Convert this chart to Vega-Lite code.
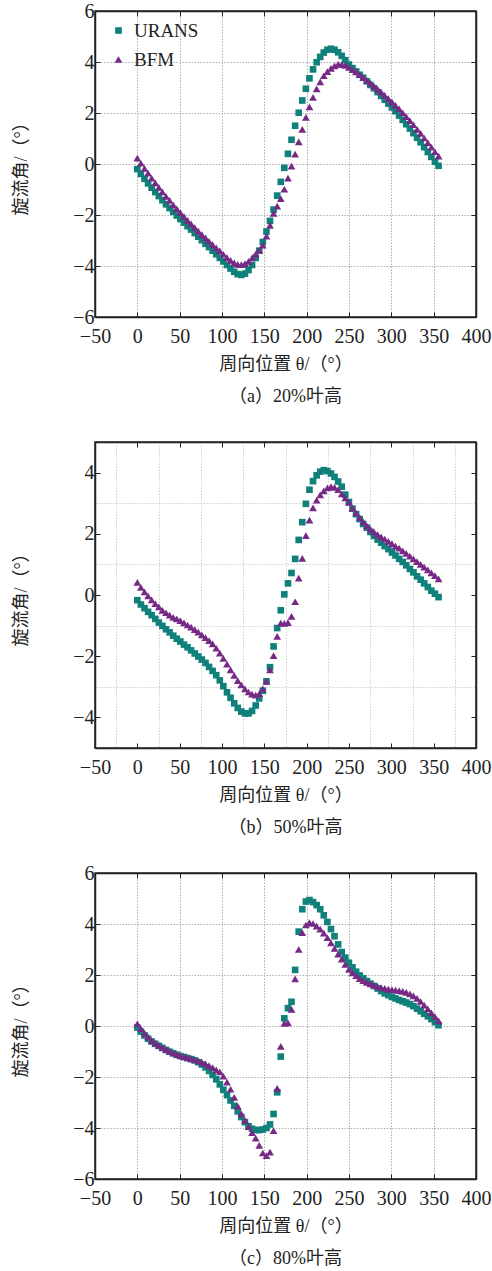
{
"$schema":"https://vega.github.io/schema/vega-lite/v6.json",
"background":"white",
"padding":{"left":11,"top":0,"right":0,"bottom":0},
"bounds":"flush",
"spacing":125,
"config":{
 "font":"Liberation Serif, Noto Sans CJK SC",
 "view":{"stroke":"#222","strokeWidth":1.5},
 "axis":{"labelFont":"Liberation Serif","labelFontSize":20,"labelColor":"#222","labelFlush":false,"labelOverlap":false,"labelPadding":5,
  "titleFont":"Liberation Serif, Noto Sans CJK SC","titleFontSize":18,"titleFontWeight":"normal","titleColor":"#222",
  "domainColor":"#222","domainWidth":1.5,"tickColor":"#222","tickSize":-5,"tickWidth":1,
  "gridColor":"#9a9a9a","gridDash":[1.5,1.5],"gridWidth":0.8},
 "axisX":{"titlePadding":9,"labelPadding":14},
 "axisY":{"titlePadding":42,"labelPadding":6},
 "title":{"font":"Liberation Serif, Noto Sans CJK SC","fontSize":18,"fontWeight":"normal","color":"#222","orient":"bottom","anchor":"middle","offset":15},
 "legend":{"title":null,"labelFont":"Liberation Serif","labelFontSize":19,"labelColor":"#222","symbolSize":44,"rowPadding":9,"labelOffset":6,"symbolStrokeWidth":0}
},
"datasets":{
"p1":[
{"t":0,"URANS":-0.20,"BFM":0.23},{"t":4.2,"URANS":-0.39,"BFM":0.03},{"t":8.5,"URANS":-0.58,"BFM":-0.17},{"t":12.7,"URANS":-0.76,"BFM":-0.36},{"t":16.9,"URANS":-0.93,"BFM":-0.55},{"t":21.2,"URANS":-1.10,"BFM":-0.74},{"t":25.4,"URANS":-1.26,"BFM":-0.92},{"t":29.6,"URANS":-1.42,"BFM":-1.09},{"t":33.9,"URANS":-1.58,"BFM":-1.27},{"t":38.1,"URANS":-1.73,"BFM":-1.43},
{"t":42.4,"URANS":-1.88,"BFM":-1.60},{"t":46.6,"URANS":-2.02,"BFM":-1.76},{"t":50.8,"URANS":-2.16,"BFM":-1.91},{"t":55.1,"URANS":-2.30,"BFM":-2.06},{"t":59.3,"URANS":-2.44,"BFM":-2.21},{"t":63.5,"URANS":-2.57,"BFM":-2.35},{"t":67.8,"URANS":-2.71,"BFM":-2.49},{"t":72.0,"URANS":-2.85,"BFM":-2.63},{"t":76.2,"URANS":-2.99,"BFM":-2.77},{"t":80.5,"URANS":-3.13,"BFM":-2.90},
{"t":84.7,"URANS":-3.26,"BFM":-3.03},{"t":88.9,"URANS":-3.40,"BFM":-3.16},{"t":93.2,"URANS":-3.54,"BFM":-3.29},{"t":97.4,"URANS":-3.68,"BFM":-3.41},{"t":101.6,"URANS":-3.82,"BFM":-3.54},{"t":105.9,"URANS":-3.96,"BFM":-3.67},{"t":110.1,"URANS":-4.10,"BFM":-3.78},{"t":114.4,"URANS":-4.23,"BFM":-3.88},{"t":118.6,"URANS":-4.32,"BFM":-3.94},{"t":122.8,"URANS":-4.35,"BFM":-3.95},
{"t":127.1,"URANS":-4.30,"BFM":-3.91},{"t":131.3,"URANS":-4.16,"BFM":-3.82},{"t":135.5,"URANS":-3.96,"BFM":-3.68},{"t":139.8,"URANS":-3.68,"BFM":-3.53},{"t":144.0,"URANS":-3.40,"BFM":-3.38},{"t":148.2,"URANS":-3.06,"BFM":-3.18},{"t":152.5,"URANS":-2.65,"BFM":-2.83},{"t":156.7,"URANS":-2.23,"BFM":-2.41},{"t":160.9,"URANS":-1.79,"BFM":-1.94},{"t":165.2,"URANS":-1.24,"BFM":-1.65},
{"t":169.4,"URANS":-0.70,"BFM":-1.36},{"t":173.6,"URANS":-0.15,"BFM":-0.99},{"t":177.9,"URANS":0.40,"BFM":-0.55},{"t":182.1,"URANS":0.95,"BFM":-0.08},{"t":186.4,"URANS":1.50,"BFM":0.39},{"t":190.6,"URANS":2.01,"BFM":0.87},{"t":194.8,"URANS":2.49,"BFM":1.36},{"t":199.1,"URANS":2.95,"BFM":1.83},{"t":203.3,"URANS":3.36,"BFM":2.24},{"t":207.5,"URANS":3.71,"BFM":2.61},
{"t":211.8,"URANS":3.99,"BFM":2.95},{"t":216.0,"URANS":4.20,"BFM":3.22},{"t":220.2,"URANS":4.37,"BFM":3.46},{"t":224.5,"URANS":4.48,"BFM":3.62},{"t":228.7,"URANS":4.52,"BFM":3.75},{"t":232.9,"URANS":4.48,"BFM":3.85},{"t":237.2,"URANS":4.38,"BFM":3.91},{"t":241.4,"URANS":4.24,"BFM":3.91},{"t":245.6,"URANS":4.07,"BFM":3.87},{"t":249.9,"URANS":3.90,"BFM":3.79},
{"t":254.1,"URANS":3.76,"BFM":3.70},{"t":258.4,"URANS":3.63,"BFM":3.61},{"t":262.6,"URANS":3.50,"BFM":3.50},{"t":266.8,"URANS":3.38,"BFM":3.40},{"t":271.1,"URANS":3.24,"BFM":3.28},{"t":275.3,"URANS":3.10,"BFM":3.17},{"t":279.5,"URANS":2.97,"BFM":3.05},{"t":283.8,"URANS":2.82,"BFM":2.94},{"t":288.0,"URANS":2.67,"BFM":2.82},{"t":292.2,"URANS":2.52,"BFM":2.69},
{"t":296.5,"URANS":2.37,"BFM":2.56},{"t":300.7,"URANS":2.22,"BFM":2.44},{"t":304.9,"URANS":2.07,"BFM":2.30},{"t":309.2,"URANS":1.90,"BFM":2.16},{"t":313.4,"URANS":1.73,"BFM":2.01},{"t":317.6,"URANS":1.56,"BFM":1.86},{"t":321.9,"URANS":1.39,"BFM":1.70},{"t":326.1,"URANS":1.21,"BFM":1.54},{"t":330.4,"URANS":1.03,"BFM":1.36},{"t":334.6,"URANS":0.85,"BFM":1.20},
{"t":338.8,"URANS":0.66,"BFM":1.02},{"t":343.1,"URANS":0.47,"BFM":0.84},{"t":347.3,"URANS":0.28,"BFM":0.66},{"t":351.5,"URANS":0.09,"BFM":0.48},{"t":355.8,"URANS":-0.07,"BFM":0.31}
],
"p2":[
{"t":0,"URANS":-0.17,"BFM":0.41},{"t":4.2,"URANS":-0.31,"BFM":0.25},{"t":8.5,"URANS":-0.43,"BFM":0.10},{"t":12.7,"URANS":-0.55,"BFM":-0.03},{"t":16.9,"URANS":-0.66,"BFM":-0.16},{"t":21.2,"URANS":-0.78,"BFM":-0.28},{"t":25.4,"URANS":-0.90,"BFM":-0.39},{"t":29.6,"URANS":-1.01,"BFM":-0.50},{"t":33.9,"URANS":-1.12,"BFM":-0.58},{"t":38.1,"URANS":-1.22,"BFM":-0.66},
{"t":42.4,"URANS":-1.33,"BFM":-0.73},{"t":46.6,"URANS":-1.43,"BFM":-0.78},{"t":50.8,"URANS":-1.52,"BFM":-0.84},{"t":55.1,"URANS":-1.62,"BFM":-0.91},{"t":59.3,"URANS":-1.71,"BFM":-0.98},{"t":63.5,"URANS":-1.81,"BFM":-1.05},{"t":67.8,"URANS":-1.91,"BFM":-1.13},{"t":72.0,"URANS":-2.01,"BFM":-1.21},{"t":76.2,"URANS":-2.11,"BFM":-1.30},{"t":80.5,"URANS":-2.22,"BFM":-1.39},
{"t":84.7,"URANS":-2.35,"BFM":-1.49},{"t":88.9,"URANS":-2.48,"BFM":-1.60},{"t":93.2,"URANS":-2.62,"BFM":-1.74},{"t":97.4,"URANS":-2.79,"BFM":-1.90},{"t":101.6,"URANS":-2.98,"BFM":-2.07},{"t":105.9,"URANS":-3.18,"BFM":-2.26},{"t":110.1,"URANS":-3.36,"BFM":-2.45},{"t":114.4,"URANS":-3.54,"BFM":-2.63},{"t":118.6,"URANS":-3.69,"BFM":-2.80},{"t":122.8,"URANS":-3.81,"BFM":-2.94},
{"t":127.1,"URANS":-3.87,"BFM":-3.07},{"t":131.3,"URANS":-3.87,"BFM":-3.17},{"t":135.5,"URANS":-3.79,"BFM":-3.24},{"t":139.8,"URANS":-3.61,"BFM":-3.27},{"t":144.0,"URANS":-3.38,"BFM":-3.22},{"t":148.2,"URANS":-3.13,"BFM":-3.07},{"t":152.5,"URANS":-2.82,"BFM":-2.82},{"t":156.7,"URANS":-2.36,"BFM":-2.45},{"t":160.9,"URANS":-1.68,"BFM":-1.98},{"t":165.2,"URANS":-1.08,"BFM":-1.35},
{"t":169.4,"URANS":-0.50,"BFM":-0.92},{"t":173.6,"URANS":0.02,"BFM":-0.93},{"t":177.9,"URANS":0.38,"BFM":-0.90},{"t":182.1,"URANS":0.72,"BFM":-0.70},{"t":186.4,"URANS":1.18,"BFM":-0.22},{"t":190.6,"URANS":1.80,"BFM":0.55},{"t":194.8,"URANS":2.38,"BFM":1.20},{"t":199.1,"URANS":2.98,"BFM":1.94},{"t":203.3,"URANS":3.44,"BFM":2.45},{"t":207.5,"URANS":3.72,"BFM":2.85},
{"t":211.8,"URANS":3.91,"BFM":3.10},{"t":216.0,"URANS":4.03,"BFM":3.27},{"t":220.2,"URANS":4.08,"BFM":3.40},{"t":224.5,"URANS":4.05,"BFM":3.50},{"t":228.7,"URANS":3.97,"BFM":3.54},{"t":232.9,"URANS":3.86,"BFM":3.52},{"t":237.2,"URANS":3.71,"BFM":3.44},{"t":241.4,"URANS":3.54,"BFM":3.30},{"t":245.6,"URANS":3.28,"BFM":3.17},{"t":249.9,"URANS":3.04,"BFM":3.03},
{"t":254.1,"URANS":2.82,"BFM":2.84},{"t":258.4,"URANS":2.64,"BFM":2.68},{"t":262.6,"URANS":2.48,"BFM":2.53},{"t":266.8,"URANS":2.32,"BFM":2.39},{"t":271.1,"URANS":2.20,"BFM":2.26},{"t":275.3,"URANS":2.06,"BFM":2.15},{"t":279.5,"URANS":1.93,"BFM":2.06},{"t":283.8,"URANS":1.81,"BFM":1.97},{"t":288.0,"URANS":1.71,"BFM":1.90},{"t":292.2,"URANS":1.60,"BFM":1.83},
{"t":296.5,"URANS":1.50,"BFM":1.75},{"t":300.7,"URANS":1.39,"BFM":1.68},{"t":304.9,"URANS":1.29,"BFM":1.60},{"t":309.2,"URANS":1.18,"BFM":1.53},{"t":313.4,"URANS":1.08,"BFM":1.44},{"t":317.6,"URANS":0.97,"BFM":1.36},{"t":321.9,"URANS":0.85,"BFM":1.27},{"t":326.1,"URANS":0.74,"BFM":1.18},{"t":330.4,"URANS":0.61,"BFM":1.09},{"t":334.6,"URANS":0.50,"BFM":1.00},
{"t":338.8,"URANS":0.38,"BFM":0.91},{"t":343.1,"URANS":0.26,"BFM":0.82},{"t":347.3,"URANS":0.14,"BFM":0.72},{"t":351.5,"URANS":0.04,"BFM":0.63},{"t":355.8,"URANS":-0.07,"BFM":0.53}
],
"p3":[
{"t":0,"URANS":-0.06,"BFM":0.08},{"t":4.2,"URANS":-0.22,"BFM":-0.10},{"t":8.5,"URANS":-0.37,"BFM":-0.28},{"t":12.7,"URANS":-0.50,"BFM":-0.43},{"t":16.9,"URANS":-0.61,"BFM":-0.56},{"t":21.2,"URANS":-0.70,"BFM":-0.67},{"t":25.4,"URANS":-0.78,"BFM":-0.76},{"t":29.6,"URANS":-0.86,"BFM":-0.84},{"t":33.9,"URANS":-0.94,"BFM":-0.92},{"t":38.1,"URANS":-1.01,"BFM":-0.99},
{"t":42.4,"URANS":-1.07,"BFM":-1.05},{"t":46.6,"URANS":-1.13,"BFM":-1.11},{"t":50.8,"URANS":-1.18,"BFM":-1.16},{"t":55.1,"URANS":-1.22,"BFM":-1.20},{"t":59.3,"URANS":-1.26,"BFM":-1.24},{"t":63.5,"URANS":-1.30,"BFM":-1.28},{"t":67.8,"URANS":-1.35,"BFM":-1.32},{"t":72.0,"URANS":-1.42,"BFM":-1.37},{"t":76.2,"URANS":-1.51,"BFM":-1.42},{"t":80.5,"URANS":-1.62,"BFM":-1.48},
{"t":84.7,"URANS":-1.76,"BFM":-1.55},{"t":88.9,"URANS":-1.92,"BFM":-1.63},{"t":93.2,"URANS":-2.09,"BFM":-1.72},{"t":97.4,"URANS":-2.29,"BFM":-1.80},{"t":101.6,"URANS":-2.50,"BFM":-1.97},{"t":105.9,"URANS":-2.71,"BFM":-2.20},{"t":110.1,"URANS":-2.92,"BFM":-2.48},{"t":114.4,"URANS":-3.13,"BFM":-2.80},{"t":118.6,"URANS":-3.35,"BFM":-3.14},{"t":122.8,"URANS":-3.57,"BFM":-3.45},
{"t":127.1,"URANS":-3.77,"BFM":-3.70},{"t":131.3,"URANS":-3.93,"BFM":-3.95},{"t":135.5,"URANS":-4.03,"BFM":-4.18},{"t":139.8,"URANS":-4.08,"BFM":-4.40},{"t":144.0,"URANS":-4.08,"BFM":-4.68},{"t":148.2,"URANS":-4.06,"BFM":-4.98},{"t":152.5,"URANS":-4.00,"BFM":-5.08},{"t":156.7,"URANS":-3.86,"BFM":-4.95},{"t":160.9,"URANS":-3.45,"BFM":-4.10},{"t":165.2,"URANS":-2.60,"BFM":-2.45},
{"t":169.4,"URANS":-1.20,"BFM":-0.80},{"t":173.6,"URANS":0.30,"BFM":0.10},{"t":177.9,"URANS":0.70,"BFM":0.12},{"t":182.1,"URANS":0.95,"BFM":0.65},{"t":186.4,"URANS":2.20,"BFM":1.85},{"t":190.6,"URANS":3.70,"BFM":3.00},{"t":194.8,"URANS":4.58,"BFM":3.66},{"t":199.1,"URANS":4.88,"BFM":3.96},{"t":203.3,"URANS":4.94,"BFM":4.05},{"t":207.5,"URANS":4.86,"BFM":4.02},
{"t":211.8,"URANS":4.74,"BFM":3.92},{"t":216.0,"URANS":4.58,"BFM":3.80},{"t":220.2,"URANS":4.34,"BFM":3.64},{"t":224.5,"URANS":4.08,"BFM":3.46},{"t":228.7,"URANS":3.80,"BFM":3.26},{"t":232.9,"URANS":3.52,"BFM":3.04},{"t":237.2,"URANS":3.20,"BFM":2.82},{"t":241.4,"URANS":2.90,"BFM":2.62},{"t":245.6,"URANS":2.68,"BFM":2.42},{"t":249.9,"URANS":2.48,"BFM":2.22},
{"t":254.1,"URANS":2.30,"BFM":2.08},{"t":258.4,"URANS":2.13,"BFM":1.97},{"t":262.6,"URANS":1.98,"BFM":1.86},{"t":266.8,"URANS":1.87,"BFM":1.78},{"t":271.1,"URANS":1.76,"BFM":1.71},{"t":275.3,"URANS":1.66,"BFM":1.65},{"t":279.5,"URANS":1.57,"BFM":1.60},{"t":283.8,"URANS":1.47,"BFM":1.55},{"t":288.0,"URANS":1.37,"BFM":1.51},{"t":292.2,"URANS":1.28,"BFM":1.48},
{"t":296.5,"URANS":1.21,"BFM":1.45},{"t":300.7,"URANS":1.14,"BFM":1.43},{"t":304.9,"URANS":1.08,"BFM":1.41},{"t":309.2,"URANS":1.02,"BFM":1.39},{"t":313.4,"URANS":0.97,"BFM":1.36},{"t":317.6,"URANS":0.92,"BFM":1.32},{"t":321.9,"URANS":0.86,"BFM":1.26},{"t":326.1,"URANS":0.78,"BFM":1.18},{"t":330.4,"URANS":0.68,"BFM":1.08},{"t":334.6,"URANS":0.58,"BFM":0.96},
{"t":338.8,"URANS":0.48,"BFM":0.82},{"t":343.1,"URANS":0.38,"BFM":0.67},{"t":347.3,"URANS":0.27,"BFM":0.52},{"t":351.5,"URANS":0.15,"BFM":0.37},{"t":355.8,"URANS":0.03,"BFM":0.20}
]
},
"vconcat":[
{
 "width":381,"height":306,
 "data":{"name":"p1"},
 "transform":[{"fold":["URANS","BFM"],"as":["series","value"]}],
 "title":{"text":"（a）20%叶高"},
 "layer":[
  {"mark":{"type":"point","filled":true,"opacity":1,"strokeWidth":0},
   "encoding":{
    "x":{"field":"t","type":"quantitative","scale":{"domain":[-50,400],"nice":false,"zero":false},"axis":{"orient":"bottom","values":[-50,0,50,100,150,200,250,300,350,400],"title":"周向位置 θ/（°）","grid":true}},
    "y":{"field":"value","type":"quantitative","scale":{"domain":[-6,6],"nice":false,"zero":false},"axis":{"orient":"left","values":[-6,-4,-2,0,2,4,6],"title":"旋流角/（°）","grid":true}},
    "color":{"field":"series","type":"nominal","scale":{"domain":["URANS","BFM"],"range":["#10807a","#762a85"]},"legend":{"orient":"none","legendX":14,"legendY":10}},
    "shape":{"field":"series","type":"nominal","scale":{"domain":["URANS","BFM"],"range":["square","triangle-up"]},"legend":{"orient":"none","legendX":14,"legendY":10}},
    "size":{"field":"series","type":"nominal","scale":{"domain":["URANS","BFM"],"range":[44,60]},"legend":null},
    "order":{"field":"series","sort":"descending"}
   }},
  {"mark":{"type":"point","opacity":0},
   "encoding":{
    "x":{"field":"t","type":"quantitative","axis":{"orient":"top","values":[-50,0,50,100,150,200,250,300,350,400],"labels":false,"grid":false,"title":null}},
    "y":{"field":"value","type":"quantitative","axis":{"orient":"right","values":[-6,-4,-2,0,2,4,6],"labels":false,"grid":false,"title":null}}
   }}
 ],
 "resolve":{"axis":{"x":"independent","y":"independent"}}
},
{
 "width":381,"height":306,
 "data":{"name":"p2"},
 "transform":[{"fold":["URANS","BFM"],"as":["series","value"]}],
 "title":{"text":"（b）50%叶高"},
 "layer":[
  {"mark":{"type":"point","opacity":0},
   "encoding":{
    "x":{"field":"t","type":"quantitative","scale":{"domain":[-50,400],"nice":false,"zero":false},"axis":{"orient":"bottom","values":[-25,25,75,125,175,225,275,325,375],"labels":false,"ticks":false,"domain":false,"grid":true,"gridColor":"#c4c4c4","title":null}},
    "y":{"field":"value","type":"quantitative","scale":{"domain":[-5,5],"nice":false,"zero":false},"axis":{"orient":"left","values":[-3,-1,1,3],"labels":false,"ticks":false,"domain":false,"grid":true,"gridColor":"#c4c4c4","title":null}}
   }},
  {"mark":{"type":"point","filled":true,"opacity":1,"strokeWidth":0},
   "encoding":{
    "x":{"field":"t","type":"quantitative","axis":{"orient":"bottom","values":[-50,0,50,100,150,200,250,300,350,400],"title":"周向位置 θ/（°）","grid":false}},
    "y":{"field":"value","type":"quantitative","axis":{"orient":"left","values":[-4,-2,0,2,4],"title":"旋流角/（°）","grid":false}},
    "color":{"field":"series","type":"nominal","scale":{"domain":["URANS","BFM"],"range":["#10807a","#762a85"]},"legend":{"orient":"none","legendX":14,"legendY":10}},
    "shape":{"field":"series","type":"nominal","scale":{"domain":["URANS","BFM"],"range":["square","triangle-up"]},"legend":{"orient":"none","legendX":14,"legendY":10}},
    "size":{"field":"series","type":"nominal","scale":{"domain":["URANS","BFM"],"range":[44,60]},"legend":null},
    "order":{"field":"series","sort":"descending"}
   }},
  {"mark":{"type":"point","opacity":0},
   "encoding":{
    "x":{"field":"t","type":"quantitative","axis":{"orient":"top","values":[-50,0,50,100,150,200,250,300,350,400],"labels":false,"grid":false,"title":null}},
    "y":{"field":"value","type":"quantitative","axis":{"orient":"right","values":[-4,-2,0,2,4],"labels":false,"grid":false,"title":null}}
   }}
 ],
 "resolve":{"axis":{"x":"independent","y":"independent"}}
},
{
 "width":381,"height":306,
 "data":{"name":"p3"},
 "transform":[{"fold":["URANS","BFM"],"as":["series","value"]}],
 "title":{"text":"（c）80%叶高"},
 "layer":[
  {"mark":{"type":"point","filled":true,"opacity":1,"strokeWidth":0},
   "encoding":{
    "x":{"field":"t","type":"quantitative","scale":{"domain":[-50,400],"nice":false,"zero":false},"axis":{"orient":"bottom","values":[-50,0,50,100,150,200,250,300,350,400],"title":"周向位置 θ/（°）","grid":true}},
    "y":{"field":"value","type":"quantitative","scale":{"domain":[-6,6],"nice":false,"zero":false},"axis":{"orient":"left","values":[-6,-4,-2,0,2,4,6],"title":"旋流角/（°）","grid":true}},
    "color":{"field":"series","type":"nominal","scale":{"domain":["URANS","BFM"],"range":["#10807a","#762a85"]},"legend":{"orient":"none","legendX":14,"legendY":10}},
    "shape":{"field":"series","type":"nominal","scale":{"domain":["URANS","BFM"],"range":["square","triangle-up"]},"legend":{"orient":"none","legendX":14,"legendY":10}},
    "size":{"field":"series","type":"nominal","scale":{"domain":["URANS","BFM"],"range":[44,60]},"legend":null},
    "order":{"field":"series","sort":"descending"}
   }},
  {"mark":{"type":"point","opacity":0},
   "encoding":{
    "x":{"field":"t","type":"quantitative","axis":{"orient":"top","values":[-50,0,50,100,150,200,250,300,350,400],"labels":false,"grid":false,"title":null}},
    "y":{"field":"value","type":"quantitative","axis":{"orient":"right","values":[-6,-4,-2,0,2,4,6],"labels":false,"grid":false,"title":null}}
   }}
 ],
 "resolve":{"axis":{"x":"independent","y":"independent"}}
}
]
}
